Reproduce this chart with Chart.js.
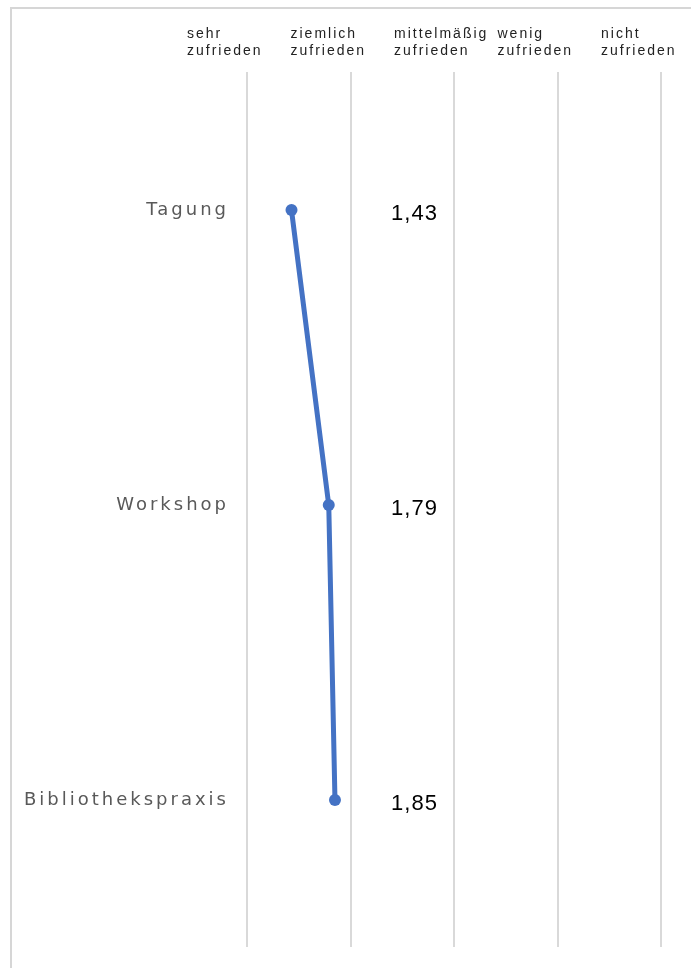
<!DOCTYPE html>
<html>
<head>
<meta charset="utf-8">
<script src="https://cdn.jsdelivr.net/npm/chart.js@4"></script>
<style>
  html, body { margin: 0; padding: 0; background: #fff; }
  #wrap { position: relative; width: 691px; height: 968px; }
  #frame { position: absolute; left: 10px; top: 7px; right: 0; bottom: 0;
           border-top: 2px solid #d6d6d6; border-left: 2px solid #d6d6d6; }
  canvas { position: absolute; left: 0; top: 0; }
</style>
</head>
<body>
<div id="wrap">
  <div id="frame"></div>
  <canvas id="chart" width="691" height="968"></canvas>
</div>
<script>
// Kategorien (Veranstaltungen) und Mittelwerte der Zufriedenheit
const categories = ['Tagung', 'Workshop', 'Bibliothekspraxis'];
const values = [1.43, 1.79, 1.85];
// Skala 1..5
const scaleLabels = [
    ['sehr', 'zufrieden'],
    ['ziemlich', 'zufrieden'],
    ['mittelmäßig', 'zufrieden'],
    ['wenig', 'zufrieden'],
    ['nicht', 'zufrieden']
];
const scaleValues = [1, 2, 3, 4, 5];

const lineColor = '#4472C4';

// breitere Laufweite für die Kategorienamen
const spacingPlugin = {
    id: 'spacingPlugin',
    beforeDraw(chart) { chart.ctx.letterSpacing = '3px'; },
    beforeDatasetsDraw(chart) { chart.ctx.letterSpacing = '0px'; }
};

// Kopfzeile mit den Skalenbeschriftungen und die Werte neben den Punkten
const labelPlugin = {
    id: 'labelPlugin',
    afterDraw(chart) {
        const ctx = chart.ctx;
        const xs = chart.scales.x;
        ctx.save();
        ctx.fillStyle = '#222';
        ctx.font = '14px "Liberation Sans", Arial, sans-serif';
        ctx.letterSpacing = '2px';
        ctx.textAlign = 'left';
        ctx.textBaseline = 'middle';
        scaleValues.forEach((v, i) => {
            const x = xs.getPixelForValue(v) - 60;
            scaleLabels[i].forEach((line, j) => {
                ctx.fillText(line, x, 34 + j * 17);
            });
        });

        // Wertebeschriftung
        const meta = chart.getDatasetMeta(0);
        ctx.fillStyle = '#000';
        ctx.font = '22px "Liberation Sans", Arial, sans-serif';
        ctx.letterSpacing = '1px';
        ctx.textAlign = 'center';
        meta.data.forEach((pt, i) => {
            const x = xs.getPixelForValue(2) + 64;
            ctx.fillText(values[i].toFixed(2).replace('.', ','), x, pt.y + 4);
        });
        ctx.restore();
        ctx.letterSpacing = '0px';
    }
};

new Chart(document.getElementById('chart'), {
    type: 'line',
    data: {
        datasets: [{
            data: values.map((v, i) => ({ x: v, y: i })),
            borderColor: lineColor,
            backgroundColor: lineColor,
            borderWidth: 5,
            pointRadius: 6,
            pointBackgroundColor: lineColor,
            pointBorderWidth: 0,
            tension: 0,
            fill: false
        }]
    },
    options: {
        responsive: false,
        animation: false,
        layout: { padding: { top: 72, bottom: 21, left: 0, right: 30 } },
        plugins: {
            legend: { display: false },
            tooltip: { enabled: false }
        },
        scales: {
            x: {
                type: 'linear',
                min: 1,
                max: 5,
                afterBuildTicks: s => { s.ticks = scaleValues.map(v => ({ value: v })); },
                afterFit: s => { s.height = 0; s.paddingLeft = 0; s.paddingRight = 0; },
                ticks: { display: false },
                border: { display: false },
                grid: { color: '#d9d9d9', lineWidth: 2, drawTicks: false }
            },
            y: {
                type: 'linear',
                reverse: true,
                min: -0.468,
                max: 2.498,
                afterBuildTicks: s => { s.ticks = categories.map((c, i) => ({ value: i })); },
                afterFit: s => { s.width = 247; s.paddingTop = 0; s.paddingBottom = 0; },
                ticks: {
                    padding: 18,
                    color: '#595959',
                    font: { family: '"DejaVu Sans", sans-serif', size: 18 },
                    callback: v => categories[v]
                },
                border: { display: false },
                grid: { display: false, drawTicks: false }
            }
        }
    },
    plugins: [spacingPlugin, labelPlugin]
});
</script>
</body>
</html>
